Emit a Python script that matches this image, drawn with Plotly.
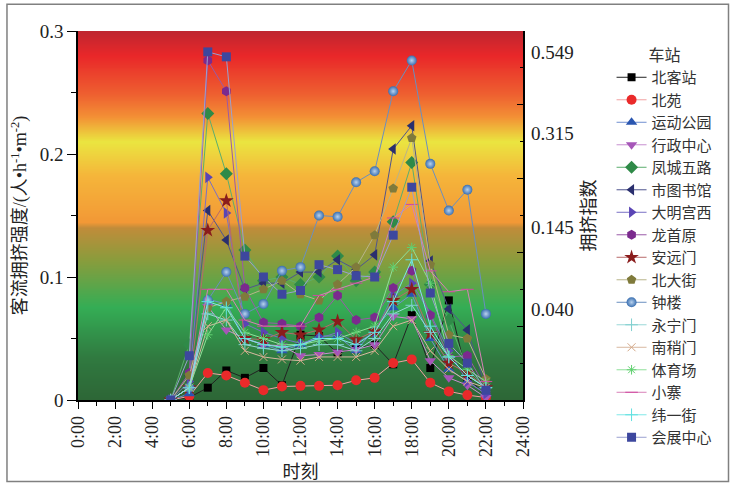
import numpy as np
import plotly.graph_objects as go

# ---------------- data ----------------
hours = [5, 6, 7, 8, 9, 10, 11, 12, 13, 14, 15, 16, 17, 18, 19, 20, 21, 22]

stations = ["北客站", "北苑", "运动公园", "行政中心", "凤城五路", "市图书馆", "大明宫西", "龙首原",
            "安远门", "北大街", "钟楼", "永宁门", "南稍门", "体育场", "小寨", "纬一街", "会展中心"]

beikezhan   = [0, 0.002, 0.010, 0.024, 0.018, 0.026, 0.012, 0.053, 0.052, 0.038, 0.042, 0.045, 0.029, 0.069, 0.026, 0.081, 0.018, 0.004]
beiyuan     = [0, 0.003, 0.022, 0.020, 0.014, 0.008, 0.011, 0.0115, 0.0115, 0.012, 0.016, 0.018, 0.030, 0.033, 0.014, 0.007, 0.004, 0.002]
yundong     = [0, 0.005, 0.082, 0.078, 0.050, 0.045, 0.040, 0.045, 0.052, 0.052, 0.040, 0.058, 0.075, 0.086, 0.050, 0.025, 0.015, 0.005]
xingzheng   = [0, 0.010, 0.076, 0.057, 0.050, 0.045, 0.044, 0.036, 0.037, 0.039, 0.041, 0.045, 0.068, 0.066, 0.032, 0.018, 0.012, 0.002]
fengcheng   = [0, 0.045, 0.233, 0.184, 0.122, 0.097, 0.100, 0.094, 0.100, 0.117, 0.097, 0.104, 0.145, 0.193, 0.094, 0.065, 0.025, 0.010]
shitushu    = [0, 0.020, 0.154, 0.130, 0.090, 0.095, 0.095, 0.104, 0.104, 0.114, 0.106, 0.118, 0.204, 0.223, 0.113, 0.074, 0.057, 0.010]
daminggong  = [0, 0.015, 0.181, 0.152, 0.062, 0.055, 0.050, 0.046, 0.050, 0.055, 0.046, 0.055, 0.085, 0.095, 0.070, 0.040, 0.015, 0.005]
longshouyuan= [0, 0.022, 0.276, 0.251, 0.091, 0.063, 0.062, 0.060, 0.067, 0.085, 0.065, 0.067, 0.091, 0.105, 0.069, 0.035, 0.036, 0.010]
anyuanmen   = [0, 0.010, 0.138, 0.162, 0.050, 0.049, 0.055, 0.053, 0.057, 0.064, 0.049, 0.056, 0.081, 0.090, 0.054, 0.030, 0.022, 0.010]
beidajie    = [0, 0.020, 0.075, 0.080, 0.084, 0.090, 0.097, 0.086, 0.081, 0.094, 0.108, 0.134, 0.172, 0.213, 0.110, 0.053, 0.050, 0.017]
zhonglou    = [0, 0.010, 0.081, 0.104, 0.070, 0.078, 0.105, 0.108, 0.150, 0.149, 0.177, 0.186, 0.251, 0.276, 0.192, 0.154, 0.171, 0.070]
yongningmen = [0, 0.010, 0.070, 0.065, 0.045, 0.042, 0.040, 0.042, 0.045, 0.045, 0.040, 0.050, 0.070, 0.077, 0.055, 0.035, 0.020, 0.010]
nanshaomen  = [0, 0.010, 0.060, 0.065, 0.040, 0.035, 0.033, 0.032, 0.035, 0.035, 0.035, 0.040, 0.060, 0.065, 0.040, 0.025, 0.015, 0.010]
tiyuchang   = [0, 0.010, 0.053, 0.075, 0.055, 0.050, 0.045, 0.045, 0.048, 0.050, 0.055, 0.060, 0.108, 0.124, 0.095, 0.036, 0.025, 0.015]
xiaozhai    = [0, 0.010, 0.090, 0.090, 0.065, 0.060, 0.060, 0.060, 0.085, 0.090, 0.095, 0.100, 0.148, 0.159, 0.105, 0.088, 0.090, 0.015]
weiyijie    = [0, 0.010, 0.080, 0.075, 0.050, 0.045, 0.043, 0.045, 0.050, 0.050, 0.045, 0.055, 0.080, 0.114, 0.060, 0.035, 0.020, 0.010]
huizhan     = [0, 0.036, 0.283, 0.279, 0.117, 0.100, 0.086, 0.089, 0.110, 0.106, 0.101, 0.100, 0.134, 0.173, 0.087, 0.046, 0.030, 0.008]

series = [beikezhan, beiyuan, yundong, xingzheng, fengcheng, shitushu, daminggong, longshouyuan,
          anyuanmen, beidajie, zhonglou, yongningmen, nanshaomen, tiyuchang, xiaozhai, weiyijie, huizhan]

x_tickvals = [0, 2, 4, 6, 8, 10, 12, 14, 16, 18, 20, 22, 24]
x_ticktext = ["0:00", "2:00", "4:00", "6:00", "8:00", "10:00", "12:00", "14:00", "16:00", "18:00", "20:00", "22:00", "24:00"]
left_tickvals = [0, 0.1, 0.2, 0.3]
right_label_pos = [0.283, 0.2165, 0.1405, 0.0733]
right_label_text = ["0.549", "0.315", "0.145", "0.040"]

# ---------------- styles ----------------
styles = [
    dict(symbol="square", color="#000000", line="#222222", size=8),
    dict(symbol="circle", color="#ea2a2a", line="#f2a2a2", size=10),
    dict(symbol="triangle-up", color="#2a56b0", line="#7090d0", size=10),
    dict(symbol="triangle-down", color="#a656b8", line="#c890d0", size=10),
    dict(symbol="diamond", color="#2f8a48", line="#5cae6e", size=10),
    dict(symbol="triangle-left", color="#2a2f6e", line="#50558e", size=10),
    dict(symbol="triangle-right", color="#5a45b5", line="#7a70c5", size=10),
    dict(symbol="hexagon", color="#7b2a8e", line="#9a5aa8", size=10),
    dict(symbol="star", color="#8a1c1c", line="#b86a6a", size=11),
    dict(symbol="pentagon", color="#7f7a3b", line="#b8b48a", size=10),
    dict(symbol="circle", color="#3a6fb0", line="#6a8fc0", size=10, grad="#b8d2ee"),
    dict(symbol="cross-thin", color="#7fcfcf", line="#9ad8d8", size=9, thin=True),
    dict(symbol="x-thin", color="#d4a888", line="#d8b8a0", size=8, thin=True),
    dict(symbol="asterisk", color="#60d070", line="#90e09a", size=8, thin=True),
    dict(symbol="line-ew", color="#d04aa0", line="#d880b8", size=9, thin=True),
    dict(symbol="cross-thin", color="#60e0e0", line="#80e8e8", size=9, thin=True),
    dict(symbol="square", color="#3d479e", line="#9aa0d0", size=9),
]

# background gradient stops (fraction of axis height, colour)
bg_stops = [
    [0.0, "#2d6636"], [0.117, "#307a40"], [0.25, "#34ad55"], [0.38, "#8a9c3c"],
    [0.465, "#c08c3a"], [0.48, "#f29836"], [0.607, "#f5b53a"], [0.70, "#eae640"],
    [0.767, "#f39035"], [0.827, "#ee6030"], [0.933, "#e92729"], [1.0, "#be2630"],
]

fig = go.Figure()

# background gradient
n_rows = 374
edges = np.linspace(0, 0.3, n_rows + 1)
centers = (edges[:-1] + edges[1:]) / 2
fig.add_trace(go.Heatmap(
    x=[0, 24], y=edges, z=[[c] for c in centers], zmin=0, zmax=0.3,
    colorscale=bg_stops, showscale=False, hoverinfo="skip", zsmooth=False,
))

for name, vals, st in zip(stations, series, styles):
    marker = dict(symbol=st["symbol"], size=st["size"], color=st["color"])
    if st.get("thin"):
        marker["line"] = dict(color=st["color"], width=1)
    else:
        marker["line"] = dict(width=0)
    if st.get("grad"):
        marker["gradient"] = dict(type="radial", color=st["grad"])
    fig.add_trace(go.Scatter(
        x=hours, y=vals, name=name, mode="lines+markers",
        line=dict(color=st["line"], width=1),
        marker=marker,
    ))

# dummy traces to anchor the right-hand axes
fig.add_trace(go.Scatter(x=[None], y=[None], yaxis="y2", showlegend=False, hoverinfo="skip"))
fig.add_trace(go.Scatter(x=[None], y=[None], yaxis="y3", showlegend=False, hoverinfo="skip"))

serif = "Liberation Serif, Times New Roman, serif"
cjk = "Noto Sans CJK SC, sans-serif"
mixed = "Liberation Serif, Noto Sans CJK SC, serif"

fig.update_layout(
    width=730, height=488,
    margin=dict(l=78, r=207, t=31, b=84),
    paper_bgcolor="white", plot_bgcolor="white",
    xaxis=dict(
        range=[0, 24], tickmode="array", tickvals=x_tickvals, ticktext=x_ticktext,
        tickangle=-90, ticks="outside", ticklen=7, tickwidth=1.2, tickcolor="black",
        minor=dict(ticks="outside", dtick=1, tick0=0, ticklen=4, tickwidth=1.2, tickcolor="black"),
        showline=True, linecolor="black", linewidth=1.5, showgrid=False, zeroline=False,
        tickfont=dict(family=serif, size=18, color="#222"),
        title=dict(text="时刻", font=dict(family=cjk, size=18, color="#222"), standoff=6),
    ),
    yaxis=dict(
        range=[0, 0.3], tickmode="array", tickvals=left_tickvals,
        ticks="outside", ticklen=9, tickwidth=1.2, tickcolor="black",
        minor=dict(ticks="outside", tickvals=[0.05, 0.15, 0.25], ticklen=5, tickwidth=1.2, tickcolor="black"),
        showline=True, linecolor="black", linewidth=1.5, showgrid=False, zeroline=False,
        tickfont=dict(family=serif, size=19, color="#222"),
        title=dict(text="客流拥挤强度/(人•h<sup>-1</sup>•m<sup>-2</sup>)",
                   font=dict(family=mixed, size=18, color="#222"), standoff=8),
    ),
    yaxis2=dict(
        range=[0, 0.3], overlaying="y", side="right", anchor="x",
        tickmode="array", tickvals=right_label_pos, ticktext=right_label_text, ticks="",
        ticklabelstandoff=7,
        showline=False, showgrid=False, zeroline=False,
        tickfont=dict(family=serif, size=19, color="#222"),
        title=dict(text="拥挤指数", font=dict(family=cjk, size=18, color="#222"), standoff=6),
    ),
    yaxis3=dict(
        range=[0, 0.3], overlaying="y", side="right", anchor="x",
        tickmode="linear", tick0=0, dtick=0.06, ticks="inside", ticklen=6, tickwidth=1.2, tickcolor="black",
        minor=dict(ticks="inside", dtick=0.03, tick0=0, ticklen=3, tickwidth=1.2, tickcolor="black"),
        showticklabels=False, showline=True, linecolor="black", linewidth=1.5,
        showgrid=False, zeroline=False,
    ),
    legend=dict(
        x=1.199, xanchor="left", y=0.975, yanchor="top",
        bgcolor="rgba(0,0,0,0)", borderwidth=0,
        font=dict(family=cjk, size=15, color="#333"),
        title=dict(text="车站", side="top center", font=dict(family=cjk, size=16, color="#333")),
        tracegroupgap=0, itemwidth=30, maxheight=480,
    ),
    showlegend=True,
    shapes=[dict(type="rect", xref="paper", yref="paper",
                 x0=-0.1596, x1=1.4618, y0=-0.2206, y1=1.0723,
                 line=dict(color="#808080", width=1.5), fillcolor="rgba(0,0,0,0)", layer="above")],
)

fig.write_html("out.html")
